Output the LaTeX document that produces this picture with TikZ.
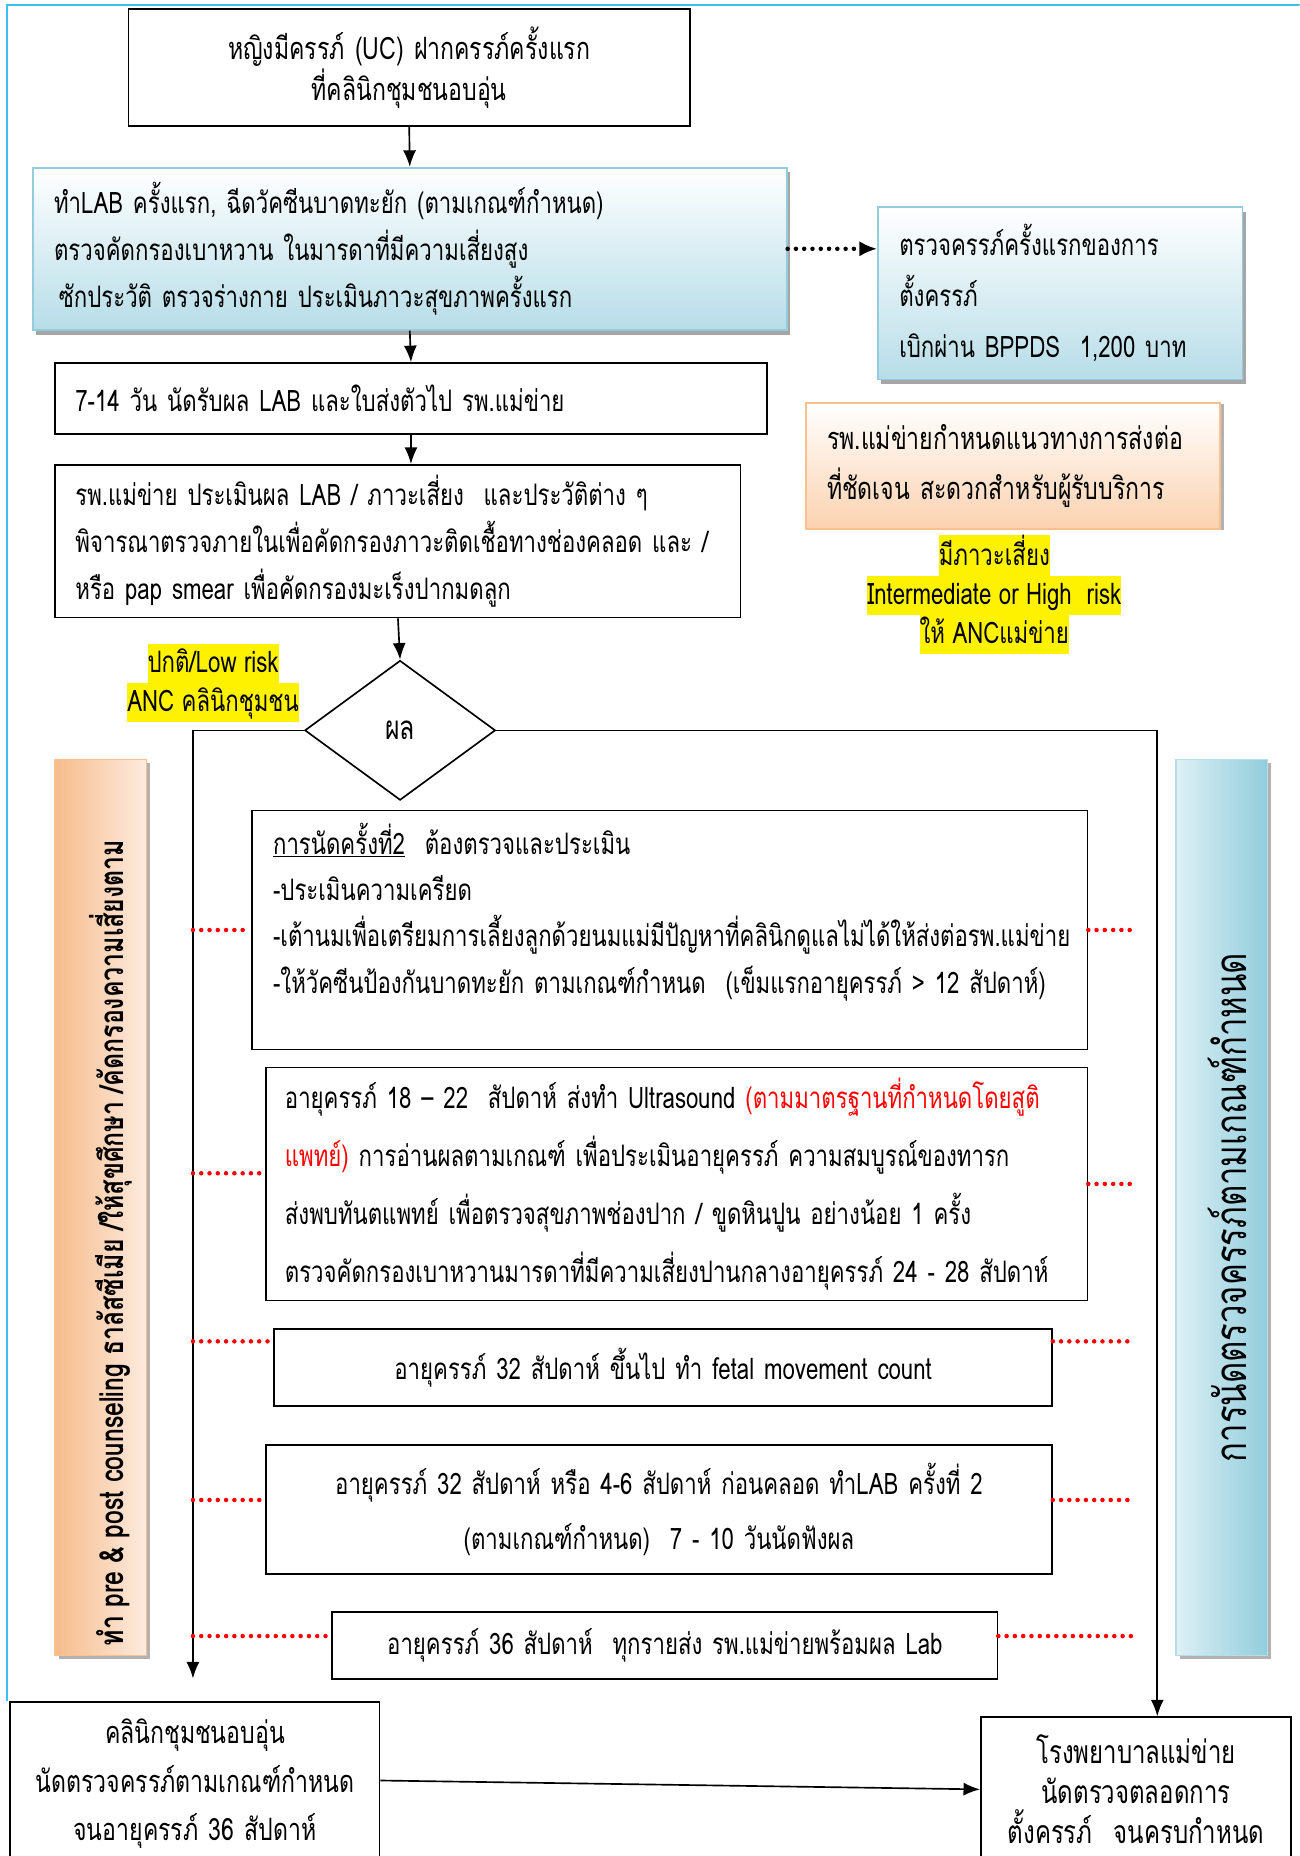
\documentclass[tikz,border=0pt]{standalone}
\usepackage{fontspec}
\setmainfont[Script=Thai,FakeStretch=0.75]{Loma}
\usepackage{tikz}
\usetikzlibrary{arrows,arrows.meta,shapes.geometric,shadows,positioning}

\definecolor{frameblue}{HTML}{3CC0F0}
\definecolor{edgeblue}{HTML}{93CDDD}
\definecolor{fillblue}{HTML}{B7DDE8}
\definecolor{edgepeach}{HTML}{FAC090}
\definecolor{fillpeach}{HTML}{FBD2B0}
\definecolor{deeppeach}{HTML}{F6BC8C}
\definecolor{palepeach}{HTML}{FDEBDF}
\definecolor{deepblue}{HTML}{92CDDC}
\definecolor{paleblue}{HTML}{DDF0F5}

\newcommand{\hilite}[1]{{\fboxsep=0pt\colorbox{yellow}{\rule[-9pt]{0pt}{33pt}#1}}}

\tikzset{
  box/.style={draw, line width=1.4pt, rectangle, anchor=north west, inner xsep=17pt, inner ysep=0pt, align=left},
  mid/.style={box, align=center},
  tx/.style 2 args={font=\fontsize{#1}{#2}\selectfont},
  bluebox/.style={box, draw=edgeblue, top color=white, bottom color=fillblue,
    drop shadow={shadow xshift=3pt, shadow yshift=-4pt, fill=black!35, opacity=1}},
  peachbox/.style={box, draw=edgepeach, top color=white, bottom color=fillpeach,
    drop shadow={shadow xshift=3pt, shadow yshift=-1pt, fill=black!30, opacity=1}},
  banner/.style={draw, line width=1.4pt, rectangle, anchor=north west, minimum width=77pt, minimum height=757pt,
    drop shadow={shadow xshift=3pt, shadow yshift=-3pt, fill=black!30, opacity=1}},
  arrow/.style={->, line width=1.4pt},
  dotarrow/.style={-{Latex[length=15pt,width=13pt]}, line width=3.8pt, dash pattern=on 0pt off 7pt, line cap=round},
  reddots/.style={red, line width=3.8pt, dash pattern=on 0pt off 7pt, line cap=round}
}

\begin{document}
\begin{tikzpicture}[x=1pt, y=-1pt, >={Latex[length=14pt,width=11pt]}]
\useasboundingbox (0,0) rectangle (1098,1568);
\clip (0,0) rectangle (1098,1568);

\draw[frameblue, line width=1.5pt] (6,1437) -- (6,4) -- (1098,4);

% upper part
\node[mid, tx={26}{34}, text width=440pt, minimum height=99pt] (uc) at (108,7)
  {หญิงมีครรภ์ (UC) ฝากครรภ์ครั้งแรก\\ที่คลินิกชุมชนอบอุ่น};
\node[bluebox, tx={25}{40}, text width=601pt, inner xsep=18pt, minimum height=137pt] (firstlab) at (27,141)
  {ทำLAB ครั้งแรก, ฉีดวัคซีนบาดทะยัก (ตามเกณฑ์กำหนด)\\ตรวจคัดกรองเบาหวาน ในมารดาที่มีความเสี่ยงสูง\\\hspace*{4pt}ซักประวัติ ตรวจร่างกาย ประเมินภาวะสุขภาพครั้งแรก};
\node[bluebox, tx={25}{43}, text width=272pt, inner xsep=18pt, minimum height=146pt] (firstvisit) at (741,174)
  {ตรวจครรภ์ครั้งแรกของการ\\ตั้งครรภ์\\เบิกผ่าน BPPDS~~1,200 บาท};
\node[box, tx={25}{40}, text width=567pt, minimum height=60pt] (result7) at (46,306)
  {7-14 วัน นัดรับผล LAB และใบส่งตัวไป รพ.แม่ข่าย};
\node[peachbox, tx={26}{43}, text width=314pt, inner xsep=18pt, minimum height=106pt] (referral) at (680,340)
  {รพ.แม่ข่ายกำหนดแนวทางการส่งต่อ\\ที่ชัดเจน สะดวกสำหรับผู้รับบริการ};
\node[box, tx={25}{40}, text width=545pt, minimum height=129pt] (review) at (46,392)
  {รพ.แม่ข่าย ประเมินผล LAB / ภาวะเสี่ยง~~และประวัติต่าง ๆ\\พิจารณาตรวจภายในเพื่อคัดกรองภาวะติดเชื้อทางช่องคลอด และ /\\หรือ pap smear เพื่อคัดกรองมะเร็งปากมดลูก};

\node[align=center, tx={25}{33}, inner sep=0pt] (risklbl) at (840,502)
  {\hilite{มีภาวะเสี่ยง}\\\hilite{Intermediate or High~~risk}\\\hilite{ให้ ANCแม่ข่าย}};
\node[align=center, tx={25}{33}, inner sep=0pt] (lowlbl) at (180,577)
  {\hilite{ปกติ/Low risk}\\\hilite{ANC คลินิกชุมชน}};

\node[diamond, draw, line width=1.4pt, minimum width=161pt, minimum height=118pt, inner sep=0pt, tx={28}{30}] (res) at (338,617) {ผล};

% side banners
\node[banner, draw=edgepeach, left color=deeppeach, right color=palepeach] (counsel) at (46,641) {};
\node[rotate=90, font=\bfseries\fontsize{28}{30}\selectfont] (counseltxt) at ([xshift=8pt,yshift=-30pt]counsel.center)
  {ทำ pre \& post counseling ธาลัสซีเมีย /ให้สุขศึกษา /คัดกรองความเสี่ยงตาม};
\node[banner, draw=fillblue, left color=paleblue, right color=deepblue] (schedule) at (993,641) {};
\node[rotate=90, font=\fontsize{37}{40}\selectfont] (scheduletxt) at ([xshift=5pt]schedule.center)
  {การนัดตรวจครรภ์ตามเกณฑ์กำหนด};

% follow-up visits
\node[box, tx={25}{39}, text width=670pt, inner xsep=18pt, minimum height=202pt] (visit2) at (212,684)
  {\underline{การนัดครั้งที่2}~~ต้องตรวจและประเมิน\\-ประเมินความเครียด\\-เต้านมเพื่อเตรียมการเลี้ยงลูกด้วยนมแม่มีปัญหาที่คลินิกดูแลไม่ได้ให้ส่งต่อรพ.แม่ข่าย\\-ให้วัคซีนป้องกันบาดทะยัก ตามเกณฑ์กำหนด~~(เข็มแรกอายุครรภ์ > 12 สัปดาห์)\\[-2pt]\mbox{}};
\node[box, tx={25}{49}, text width=662pt, inner xsep=16pt, minimum height=197pt] (ultra) at (224,901)
  {อายุครรภ์ 18 – 22~~สัปดาห์ ส่งทำ Ultrasound \textcolor{red}{(ตามมาตรฐานที่กำหนดโดยสูติ}\\\textcolor{red}{แพทย์)} การอ่านผลตามเกณฑ์ เพื่อประเมินอายุครรภ์ ความสมบูรณ์ของทารก\\ส่งพบทันตแพทย์ เพื่อตรวจสุขภาพช่องปาก / ขูดหินปูน อย่างน้อย 1 ครั้ง\\ตรวจคัดกรองเบาหวานมารดาที่มีความเสี่ยงปานกลางอายุครรภ์ 24 - 28 สัปดาห์};
\node[mid, tx={25}{40}, text width=623pt, minimum height=65pt] (fetal) at (231,1122)
  {อายุครรภ์ 32 สัปดาห์ ขึ้นไป ทำ fetal movement count};
\node[mid, tx={25}{46}, text width=630pt, minimum height=109pt] (lab2) at (224,1220)
  {อายุครรภ์ 32 สัปดาห์ หรือ 4-6 สัปดาห์ ก่อนคลอด ทำLAB ครั้งที่ 2\\(ตามเกณฑ์กำหนด)~~7 - 10 วันนัดฟังผล};
\node[mid, tx={25}{40}, text width=528pt, minimum height=57pt] (wk36) at (280,1361)
  {อายุครรภ์ 36 สัปดาห์~~ทุกรายส่ง รพ.แม่ข่ายพร้อมผล Lab};

% bottom boxes
\node[mid, tx={26}{41}, text width=278pt, minimum height=139pt] (clinic) at (8,1437)
  {คลินิกชุมชนอบอุ่น\\นัดตรวจครรภ์ตามเกณฑ์กำหนด\\จนอายุครรภ์ 36 สัปดาห์};
\node[mid, tx={27}{34}, text width=228pt, minimum height=122pt] (hosp) at (828,1450)
  {โรงพยาบาลแม่ข่าย\\นัดตรวจตลอดการ\\ตั้งครรภ์~~จนครบกำหนด};

\coordinate (lcorner) at (163,617);
\coordinate (lowend) at (163,1418);
\coordinate (rdots) at (957,617);

% connectors
\draw[arrow] (uc.south) -- (firstlab.north);
\draw[dotarrow] (firstlab.east) -- (firstlab.east -| firstvisit.west);
\draw[arrow] (firstlab.south) -- (result7.north);
\draw[arrow] (result7.south) -- (result7.south |- review.north);
\draw[arrow] (review.south) -- (res.north);
\draw[arrow] (res.west) -- (lcorner) -- (lowend);
\draw[arrow] (res.east) -| ([xshift=18pt]hosp.north);
\draw[arrow] ([yshift=3pt]clinic.east) -- (hosp.west);

\draw[reddots] (lcorner |- visit2.west) -- (visit2.west);
\draw[reddots] (visit2.east) -- (rdots |- visit2.east);
\draw[reddots] ([yshift=9pt]lcorner |- ultra.west) -- ([yshift=9pt]ultra.west);
\draw[reddots] (ultra.east) -- (rdots |- ultra.east);
\draw[reddots] ([yshift=22pt]lcorner |- fetal.west) -- ([yshift=22pt]fetal.west);
\draw[reddots] ([yshift=22pt]fetal.east) -- ([yshift=22pt]rdots |- fetal.east);
\draw[reddots] ([yshift=8pt]lcorner |- lab2.west) -- ([yshift=8pt]lab2.west);
\draw[reddots] ([yshift=8pt]lab2.east) -- ([yshift=8pt]rdots |- lab2.east);
\draw[reddots] ([yshift=8pt]lcorner |- wk36.west) -- ([yshift=8pt]wk36.west);
\draw[reddots] ([yshift=8pt]wk36.east) -- ([yshift=8pt]rdots |- wk36.east);
\end{tikzpicture}
\end{document}
